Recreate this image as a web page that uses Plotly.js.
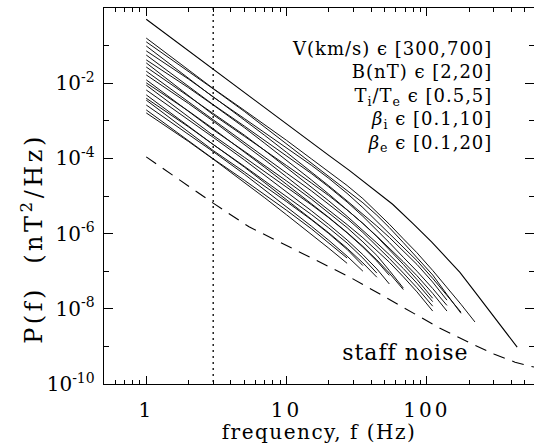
<!DOCTYPE html>
<html><head><meta charset="utf-8">
<script src="https://cdn.plot.ly/plotly-3.0.1.min.js"></script>
<style>
html,body{margin:0;padding:0;background:#fff}
#chart g.xtick text{letter-spacing:3px}
#chart text.xtitle{letter-spacing:1.5px}
#chart g.annotation[data-index="0"] text{letter-spacing:1px}
#chart g.annotation[data-index="1"] text{letter-spacing:1px}
#chart g.annotation[data-index="2"] text{letter-spacing:3.5px}
</style>
</head><body><div id="chart" style="width:534px;height:444px"></div>
<script>
// Frequencies (Hz) shared by the bundle of spectra
const freqGrid = [1, 2, 3, 5, 7, 10, 15, 20, 27, 35, 44, 54, 68, 85, 110, 139, 175, 220];
// log10 P(f) of each spectrum (each truncated where it ends)
const spec01 = [-0.80,-1.65,-2.14,-2.72,-3.10,-3.52,-4.01,-4.35,-4.72,-5.07,-5.42,-5.75,-6.14,-6.51,-6.98,-7.43,-7.88,-8.35];
const spec02 = [-0.90,-1.68,-2.15,-2.75,-3.17,-3.62,-4.12,-4.47,-4.84,-5.18,-5.51,-5.84,-6.24,-6.63,-7.10,-7.62,-8.12];
const spec03 = [-1.01,-1.87,-2.37,-2.94,-3.32,-3.72,-4.18,-4.53,-4.93,-5.31,-5.67,-5.99,-6.36,-6.72,-7.19,-7.64,-8.09];
const spec04 = [-1.14,-1.89,-2.36,-2.97,-3.39,-3.84,-4.35,-4.73,-5.13,-5.48,-5.80,-6.10,-6.46,-6.82,-7.29,-7.77];
const spec05 = [-1.25,-2.08,-2.57,-3.14,-3.52,-3.93,-4.40,-4.76,-5.16,-5.54,-5.90,-6.24,-6.63,-7.00,-7.46,-7.91];
const spec06 = [-1.38,-2.12,-2.58,-3.18,-3.60,-4.05,-4.57,-4.95,-5.36,-5.73,-6.07,-6.38,-6.75,-7.12,-7.59,-8.06];
const spec07 = [-1.46,-2.34,-2.84,-3.41,-3.78,-4.19,-4.65,-4.99,-5.37,-5.73,-6.08,-6.42,-6.82,-7.22,-7.72];
const spec08 = [-1.57,-2.34,-2.80,-3.38,-3.79,-4.24,-4.75,-5.13,-5.54,-5.91,-6.25,-6.56,-6.93,-7.32,-7.81];
const spec09 = [-1.68,-2.50,-2.99,-3.59,-3.98,-4.39,-4.86,-5.21,-5.60,-5.97,-6.32,-6.66,-7.05,-7.44,-7.93];
const spec10 = [-1.78,-2.54,-3.01,-3.62,-4.04,-4.49,-5.00,-5.37,-5.76,-6.11,-6.44,-6.76,-7.15,-7.55,-8.06];
const spec11 = [-1.91,-2.75,-3.24,-3.81,-4.19,-4.60,-5.08,-5.44,-5.84,-6.22,-6.58,-6.98,-7.45];
const spec12 = [-1.99,-2.74,-3.21,-3.82,-4.24,-4.69,-5.20,-5.57,-5.97,-6.34,-6.70,-7.05,-7.49];
const spec13 = [-2.05,-2.90,-3.39,-3.97,-4.35,-4.76,-5.23,-5.58,-5.98,-6.36,-6.73,-7.11];
const spec14 = [-2.18,-2.96,-3.44,-4.04,-4.45,-4.89,-5.39,-5.76,-6.17,-6.56,-6.94,-7.34];
const spec15 = [-2.31,-3.14,-3.63,-4.21,-4.60,-5.01,-5.49,-5.85,-6.25,-6.65,-7.05];
const spec16 = [-2.40,-3.16,-3.63,-4.23,-4.65,-5.10,-5.61,-5.98,-6.39,-6.78,-7.16];
const spec17 = [-2.45,-3.30,-3.79,-4.36,-4.74,-5.15,-5.63,-6.00,-6.42,-6.85];
const spec18 = [-2.58,-3.35,-3.82,-4.42,-4.84,-5.29,-5.80,-6.18,-6.60,-7.00];
const spec19 = [-2.71,-3.53,-4.01,-4.58,-4.96,-5.38,-5.87,-6.24,-6.65];
const spec20 = [-2.79,-3.55,-4.02,-4.63,-5.05,-5.50,-6.01,-6.39,-6.79];

// Highest spectrum (separate sampling)
const topFreq = [1, 2, 3, 4, 6, 10, 15, 20, 28, 44, 57, 80, 108, 140, 172, 220, 300, 440];
const topLogP = [-0.30,-1.14,-1.63,-1.99,-2.48,-3.10,-3.58,-3.92,-4.32,-4.89,-5.22,-5.74,-6.22,-6.67,-7.03,-7.55,-8.21,-9.02];

// Staff (search-coil) noise level
const noiseFreq = [1, 2, 3, 5.4, 10, 14.6, 28, 50, 80, 123, 203, 300, 425, 580];
const noiseLogP = [-3.96,-4.74,-5.19,-5.82,-6.31,-6.62,-7.15,-7.68,-8.11,-8.51,-8.91,-9.20,-9.42,-9.55];

// Vertical marker frequency
const markerFreq = [3, 3];
const markerP = [1, 1e-10];

// Axis ticks
const xMajor = [1, 10, 100];
const xMajorText = ['1', '10', '100'];
const xMinor = [0.6,0.7,0.8,0.9,2,3,4,5,6,7,8,9,20,30,40,50,60,70,80,90,200,300,400,500];
const yMajor = [1, 1e-2, 1e-4, 1e-6, 1e-8, 1e-10];
const yMajorText = ['10<sup>0</sup>','10<sup>-2</sup>','10<sup>-4</sup>','10<sup>-6</sup>','10<sup>-8</sup>','10<sup>-10</sup>'];
const yMinor = [1e-1, 1e-3, 1e-5, 1e-7, 1e-9];

const legendLines = [
  'V(km/s) \u03f5 [300,700]',
  'B(nT) \u03f5 [2,20]',
  'T<sub>i</sub>/T<sub>e</sub> \u03f5 [0.5,5]',
  '<i>\u03b2</i><sub>i</sub> \u03f5 [0.1,10]',
  '<i>\u03b2</i><sub>e</sub> \u03f5 [0.1,20]'
];

const toP = a => a.map(v => Math.pow(10, v));
const specs = [spec01,spec02,spec03,spec04,spec05,spec06,spec07,spec08,spec09,spec10,
               spec11,spec12,spec13,spec14,spec15,spec16,spec17,spec18,spec19,spec20];

const traces = specs.map(s => ({
  x: freqGrid.slice(0, s.length), y: toP(s), mode: 'lines',
  line: {color: '#111', width: 1}, showlegend: false
}));
traces.push({x: topFreq, y: toP(topLogP), mode: 'lines', line: {color: '#000', width: 1.1}, showlegend: false});
traces.push({x: noiseFreq, y: toP(noiseLogP), mode: 'lines', line: {color: '#000', width: 1.1, dash: '12px,8px'}, showlegend: false});
traces.push({x: markerFreq, y: markerP, mode: 'lines', line: {color: '#000', width: 1.3, dash: '2px,4px'}, showlegend: false});

const FONT = 'DejaVu Serif';
const ann = [
  {xref: 'paper', yref: 'paper', x: 0.906, y: 1 - (97 - 8) / 376, xanchor: 'right', yanchor: 'middle',
   align: 'right', showarrow: false, text: legendLines.join('<br>'),
   font: {family: FONT, size: 18, color: '#000'}},
  {xref: 'paper', yref: 'paper', x: 0.702, y: 0.085, xanchor: 'center', yanchor: 'middle',
   showarrow: false, text: 'staff noise', font: {family: FONT, size: 22, color: '#000'}},
  {xref: 'paper', yref: 'paper', x: -0.167, y: 0.388, xanchor: 'center', yanchor: 'middle',
   showarrow: false, textangle: -90, text: 'P(f)  (nT<sup>2</sup>/Hz)', font: {family: FONT, size: 24, color: '#000'}}
];

const layout = {
  width: 534, height: 444,
  margin: {l: 104, r: 0, t: 8, b: 60},
  paper_bgcolor: '#fff', plot_bgcolor: '#fff',
  showlegend: false,
  font: {family: FONT, color: '#000'},
  xaxis: {
    type: 'log', range: [Math.log10(0.5), Math.log10(580)],
    tickmode: 'array', tickvals: xMajor, ticktext: xMajorText,
    ticks: 'inside', ticklen: 8, tickwidth: 1, tickcolor: '#000',
    showline: true, linecolor: '#000', linewidth: 1.3, mirror: 'ticks',
    showgrid: false, zeroline: false,
    tickfont: {family: FONT, size: 20, color: '#000'},
    ticklabelstandoff: 8,
    minor: {tickmode: 'array', tickvals: xMinor, ticks: 'inside', ticklen: 4, tickwidth: 1, tickcolor: '#000', showgrid: false},
    title: {text: 'frequency, f (Hz)', font: {family: FONT, size: 20, color: '#000'}, standoff: 2}
  },
  yaxis: {
    type: 'log', range: [-10, 0],
    tickmode: 'array', tickvals: yMajor, ticktext: yMajorText,
    ticks: 'inside', ticklen: 9, tickwidth: 1, tickcolor: '#000',
    showline: true, linecolor: '#000', linewidth: 1.3, mirror: 'ticks',
    showgrid: false, zeroline: false,
    tickfont: {family: FONT, size: 20, color: '#000'},
    ticklabelstandoff: 4,
    minor: {tickmode: 'array', tickvals: yMinor, ticks: 'inside', ticklen: 5, tickwidth: 1, tickcolor: '#000', showgrid: false}
  },
  annotations: ann
};

Plotly.newPlot('chart', traces, layout, {staticPlot: true, displayModeBar: false});
</script></body></html>
